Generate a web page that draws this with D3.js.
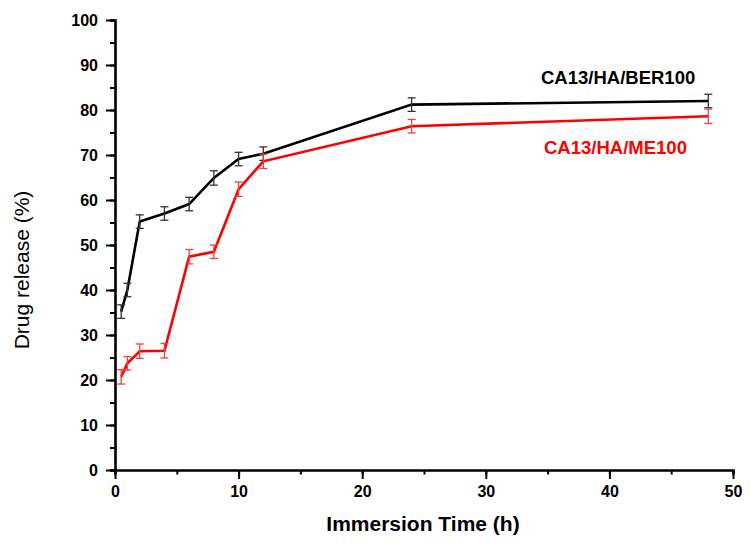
<!DOCTYPE html>
<html>
<head>
<meta charset="utf-8">
<script src="https://cdn.jsdelivr.net/npm/d3@7"></script>
<style>
  html, body { margin: 0; padding: 0; background: #fff; }
  svg { display: block; font-family: Arial, "Liberation Sans", sans-serif; }
</style>
</head>
<body>
<svg id="chart" width="750" height="547"></svg>
<script>
const times = [0.5, 1, 2, 4, 6, 8, 10, 12, 24, 48];
const berValues = [35.2, 40.0, 55.2, 57.0, 59.1, 64.9, 69.1, 70.3, 81.2, 82.0];
const berErrors = [1.5, 1.5, 1.5, 1.5, 1.5, 1.6, 1.5, 1.5, 1.5, 1.5];
const meValues = [20.7, 23.7, 26.4, 26.5, 47.4, 48.5, 62.4, 68.6, 76.4, 78.6];
const meErrors = [1.6, 1.5, 1.6, 1.6, 1.6, 1.5, 1.6, 1.6, 1.5, 1.6];
const xTicks = [0, 10, 20, 30, 40, 50];
const yTicks = [0, 10, 20, 30, 40, 50, 60, 70, 80, 90, 100];
const seriesNames = ["CA13/HA/BER100", "CA13/HA/ME100"];

const svg = d3.select("#chart");
const x = d3.scaleLinear().domain([0, 50]).range([115, 733]);
const y = d3.scaleLinear().domain([0, 100]).range([470, 20]);
const FONT = "Arial, 'Liberation Sans', sans-serif";

const series = [
  { name: seriesNames[0], values: berValues, errors: berErrors, color: "#000000", errColor: "#333333", label: [541, 84] },
  { name: seriesNames[1], values: meValues, errors: meErrors, color: "#ff0000", errColor: "#f04040", label: [544, 154] }
];

series.forEach(s => {
  const pts = times.map((t, i) => ({ t, v: s.values[i], e: s.errors[i] }));
  svg.append("path")
    .datum(pts)
    .attr("fill", "none")
    .attr("stroke", s.color)
    .attr("stroke-width", 2.6)
    .attr("d", d3.line().x(d => x(d.t)).y(d => y(d.v)));
  const g = svg.append("g").attr("stroke", s.errColor).attr("stroke-width", 1.3);
  pts.forEach(d => {
    const cx = x(d.t);
    g.append("line").attr("x1", cx).attr("x2", cx).attr("y1", y(d.v + d.e)).attr("y2", y(d.v - d.e));
    g.append("line").attr("x1", cx - 4).attr("x2", cx + 4).attr("y1", y(d.v + d.e)).attr("y2", y(d.v + d.e));
    g.append("line").attr("x1", cx - 4).attr("x2", cx + 4).attr("y1", y(d.v - d.e)).attr("y2", y(d.v - d.e));
  });
  svg.append("text")
    .attr("x", s.label[0]).attr("y", s.label[1])
    .attr("fill", s.color)
    .attr("font-size", 18.5).attr("font-weight", "bold")
    .text(s.name);
});

// x axis: minor then major ticks
const xAxis = svg.append("g").attr("transform", "translate(0,470)");
xAxis.call(d3.axisBottom(x).tickValues(d3.range(0, 51, 5)).tickSize(4.5).tickFormat(""));
xAxis.selectAll(".tick line").attr("stroke-width", 2);
xAxis.select(".domain").attr("stroke-width", 2.6);
const xMajor = svg.append("g").attr("transform", "translate(0,470)");
xMajor.call(d3.axisBottom(x).tickValues(xTicks).tickSize(9).tickPadding(7).tickFormat(d3.format("d")));
xMajor.select(".domain").remove();
xMajor.selectAll(".tick line").attr("stroke-width", 2);
xMajor.selectAll(".tick text").attr("font-size", 16).attr("font-weight", "bold").attr("fill", "#000")
  .attr("font-family", FONT);

// y axis
const yAxis = svg.append("g").attr("transform", "translate(115,0)");
yAxis.call(d3.axisLeft(y).tickValues(d3.range(0, 101, 5)).tickSize(5).tickFormat(""));
yAxis.selectAll(".tick line").attr("stroke-width", 2);
yAxis.select(".domain").attr("stroke-width", 2.6);
const yMajor = svg.append("g").attr("transform", "translate(115,0)");
yMajor.call(d3.axisLeft(y).tickValues(yTicks).tickSize(9).tickPadding(8).tickFormat(d3.format("d")));
yMajor.select(".domain").remove();
yMajor.selectAll(".tick line").attr("stroke-width", 2);
yMajor.selectAll(".tick text").attr("font-size", 16).attr("font-weight", "bold").attr("fill", "#000")
  .attr("font-family", FONT);

// axis titles
svg.append("text")
  .attr("x", 423).attr("y", 531)
  .attr("text-anchor", "middle")
  .attr("font-size", 21).attr("font-weight", "bold")
  .text("Immersion Time (h)");
svg.append("text")
  .attr("transform", "translate(29,270) rotate(-90)")
  .attr("text-anchor", "middle")
  .attr("font-size", 21)
  .text("Drug release (%)");
</script>
</body>
</html>
